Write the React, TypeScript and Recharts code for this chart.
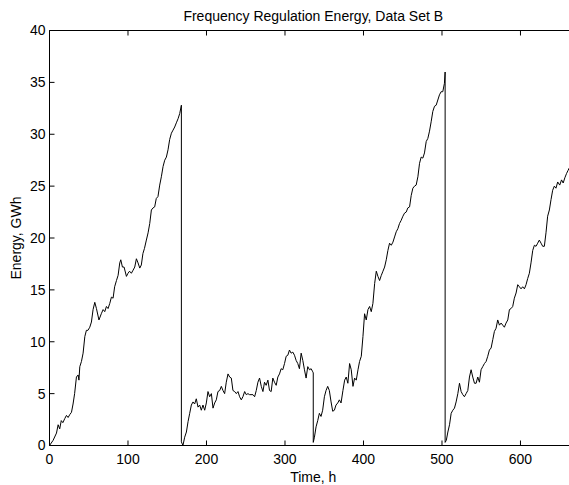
import { LineChart, Line, XAxis, YAxis } from 'recharts';

// hours and energy (GWh), one week per array pair
const week1Hours = [
  0, 4.6, 8.9, 11, 13, 15, 17, 19.5, 21.6, 23.7, 26, 28, 30, 32, 34.3, 36.5, 37.5, 38.6, 40.7, 42.8,
  45, 47, 49, 51.3, 53.4, 55.5, 57.7, 59.8, 63, 66, 68.3, 70.4, 72.5, 74.6, 76.8, 78.9, 81, 83, 85.3,
  87.4, 89.5, 90.8, 92.9, 95, 98, 100, 102, 104.3, 106.5, 108.6, 110.7, 112.8, 115, 117, 119, 121,
  123.4, 125.6, 127.7, 129.8, 131.9, 134, 136, 138.2, 140.4, 142.5, 144.7, 146.8, 148.9, 151, 153.1,
  155.3, 157.4, 159.5, 161.6, 163.8, 165.9, 168,
];
const week1Energy = [
  0, 0.5, 1.2, 2.0, 1.6, 2.4, 2.2, 2.6, 2.9, 2.7, 3.0, 3.2, 4.0, 5.0, 6.6, 6.8, 6.3, 7.6, 8.1, 8.9,
  10.5, 11.1, 11.1, 11.4, 11.9, 13.1, 13.8, 13.2, 12.1, 12.7, 13.1, 12.9, 13.4, 13.2, 13.7, 14.3, 14.2,
  15.3, 15.9, 16.4, 17.6, 17.9, 17.2, 17.2, 16.3, 16.6, 16.8, 16.6, 16.9, 17.2, 18.0, 17.6, 17.1, 17.4,
  18.5, 19.0, 19.8, 20.5, 21.4, 22.7, 22.9, 23.0, 23.8, 24.0, 25.1, 25.9, 26.9, 27.5, 27.8, 28.5, 29.5,
  30.1, 30.4, 30.7, 31.1, 31.5, 32.0, 32.8,
];

const week2Hours = [
  168, 170, 172.2, 174.4, 176.5, 178.6, 180.7, 182.8, 184.9, 187, 189.2, 191.3, 193.4, 195.5, 197.7,
  199.8, 201.9, 204, 206.2, 208.3, 210.4, 212.5, 214.6, 216.8, 218.9, 221, 223.1, 225.2, 227.4, 229.5,
  231.6, 233.7, 235.9, 238, 240.1, 242.2, 244.3, 246.4, 248.6, 250.7, 252.8, 254.9, 259.2, 261.3,
  263.4, 265.5, 267.6, 269.8, 271.9, 273.9, 276, 278.2, 280.3, 282.4, 284.5, 286.6, 288.8, 290.9, 293,
  295.1, 297.2, 299.4, 301.5, 303.6, 305.7, 307.8, 310, 312.1, 314.2, 316.3, 318.4, 320.6, 322.7,
  324.8, 326.9, 329, 331.2, 333.3, 335.4, 336,
];
const week2Energy = [
  0.35, 0, 0.8, 1.3, 2.3, 3.1, 3.9, 4.2, 4.0, 4.5, 3.7, 3.9, 3.4, 3.9, 3.4, 4.1, 5.2, 4.7, 5.0, 3.6,
  4.1, 4.4, 5.2, 5.3, 5.7, 5.3, 5.0, 6.1, 6.9, 6.6, 6.5, 5.3, 5.2, 5.0, 5.2, 4.7, 4.4, 4.7, 5.2, 4.9,
  5.0, 4.9, 4.9, 4.7, 5.3, 6.1, 6.5, 5.7, 5.2, 6.1, 5.8, 6.3, 5.3, 5.2, 6.5, 6.1, 5.8, 6.6, 6.9, 7.4,
  7.3, 7.9, 8.6, 8.7, 9.2, 8.9, 9.0, 8.7, 8.2, 7.9, 7.4, 8.9, 8.2, 7.3, 6.5, 7.6, 7.3, 7.4, 7.1, 7.0,
];

const week3Hours = [
  336, 337.5, 339.6, 341.7, 343.8, 345.9, 348, 350.2, 352.3, 354.4, 356.5, 358.7, 360.8, 362.9, 365,
  367.2, 369.3, 371.4, 373.8, 376, 378, 380.1, 382.3, 384.4, 386.6, 388.7, 390.8, 393, 395, 397.2,
  399.3, 401.4, 403.5, 405.7, 407.8, 409.9, 412, 414.2, 416.3, 418.4, 420.5, 422.7, 424.8, 426.9, 429,
  431.1, 433.2, 435.4, 437.5, 439.6, 441.7, 443.8, 445.9, 448, 450.2, 452.3, 454.4, 456.5, 458.7,
  460.8, 462.9, 465, 467.1, 469.3, 471.4, 473.5, 475.6, 477.7, 479.9, 482, 484.1, 486.2, 488.3, 490.5,
  492.6, 494.7, 496.8, 498.9, 501, 503.1, 504,
];
const week3Energy = [
  0.3, 0.8, 1.8, 2.4, 3.1, 2.8, 3.4, 4.7, 5.3, 5.7, 5.3, 4.2, 3.3, 3.4, 3.9, 4.1, 4.4, 4.1, 5.3, 6.3,
  6.6, 6.0, 7.9, 7.3, 5.7, 6.5, 6.3, 7.3, 8.1, 8.6, 10.5, 12.7, 12.1, 13.1, 13.4, 12.9, 13.7, 15.6,
  16.8, 16.3, 15.9, 16.4, 16.8, 17.2, 17.9, 18.8, 19.5, 19.3, 19.6, 20.1, 20.6, 20.9, 21.4, 21.7, 22.1,
  22.4, 22.5, 22.9, 23.0, 24.1, 24.8, 25.0, 25.1, 25.9, 27.2, 27.8, 27.7, 28.2, 29.3, 29.6, 30.3, 31.2,
  32.2, 32.7, 32.8, 33.3, 33.8, 34.1, 34.1, 34.9, 36.0,
];

const week4Hours = [
  504, 505.5, 507.5, 509.6, 511.7, 513.8, 515.9, 518, 520.2, 522.3, 524.4, 526.5, 528.6, 530.7, 532.9,
  535, 537.1, 539.2, 541.4, 543.5, 545.6, 547.7, 549.8, 551.9, 554.1, 556.2, 558.3, 560.4, 562.6,
  564.7, 566.8, 568.9, 571, 573.2, 575.3, 577.4, 579.5, 581.6, 583.8, 585.9, 588, 590.1, 592.2, 594.4,
  596.5, 598.6, 600.7, 602.8, 605, 607.1, 609.2, 611.3, 613.4, 615.6, 617.7, 619.8, 621.9, 624, 626.2,
  628.3, 630.4, 632.5, 634.6, 636.8, 638.9, 641, 643.1, 645.2, 647.4, 650, 652.3, 654.4, 656.5, 658.6,
  660.5, 662.5,
];
const week4Energy = [
  0.3, 0.5, 1.3, 2.0, 3.1, 3.4, 3.6, 4.2, 5.0, 6.0, 5.2, 4.9, 4.7, 5.0, 5.3, 6.6, 7.3, 6.6, 6.0, 6.0,
  6.6, 6.1, 7.3, 7.6, 7.9, 8.1, 8.6, 9.2, 9.4, 10.2, 11.0, 11.3, 12.1, 11.6, 11.8, 11.6, 11.4, 11.8,
  12.1, 13.1, 13.2, 13.4, 14.2, 14.7, 15.5, 15.3, 15.1, 15.3, 15.1, 15.5, 16.1, 16.6, 17.6, 18.8, 19.3,
  19.2, 19.5, 19.8, 19.5, 19.2, 19.2, 20.5, 22.1, 22.7, 23.7, 24.6, 25.0, 24.8, 25.4, 25.1, 25.6, 25.3,
  25.8, 26.2, 26.5, 26.8,
];

const xTicks = [0, 100, 200, 300, 400, 500, 600];
const yTicks = [0, 5, 10, 15, 20, 25, 30, 35, 40];

const hours = [...week1Hours, ...week2Hours, ...week3Hours, ...week4Hours];
const energy = [...week1Energy, ...week2Energy, ...week3Energy, ...week4Energy];
const data = hours.map((t, i) => ({ t, e: energy[i] }));

const FONT = '"Liberation Sans", Arial, Helvetica, sans-serif';
const tickStyle = { fontSize: 14, fill: '#000', fontFamily: FONT };

export default function App() {
  return (
    <div
      style={{
        position: 'fixed',
        left: 0,
        top: 0,
        width: 569,
        height: 485,
        overflow: 'hidden',
        background: '#fff',
        fontFamily: FONT,
      }}
    >
      <div
        style={{
          position: 'absolute',
          left: 49.5,
          width: 527.5,
          top: 9,
          textAlign: 'center',
          fontSize: 14,
          lineHeight: '14px',
          color: '#000',
          whiteSpace: 'nowrap',
        }}
      >
        Frequency Regulation Energy, Data Set B
      </div>
      <LineChart
        width={600}
        height={485}
        data={data}
        margin={{ top: 29.5, right: 23, bottom: 0, left: 0 }}
        style={{ fontFamily: FONT }}
      >
        {/* negative tickSize points the tick marks into the plot */}
        <XAxis
          dataKey="t"
          type="number"
          domain={[0, 672]}
          ticks={xTicks}
          height={39.5}
          tickSize={-5}
          tickMargin={14}
          tick={tickStyle}
          axisLine={{ stroke: '#000' }}
          tickLine={{ stroke: '#000' }}
          label={{ value: 'Time, h', position: 'insideBottom', offset: 3, fill: '#000', fontSize: 14 }}
        />
        {/* top edge of the box, ticks only */}
        <XAxis
          xAxisId="top"
          dataKey="t"
          type="number"
          orientation="top"
          domain={[0, 672]}
          ticks={xTicks}
          height={1}
          tickSize={-5}
          tickFormatter={() => ''}
          axisLine={{ stroke: '#000' }}
          tickLine={{ stroke: '#000' }}
        />
        <YAxis
          type="number"
          domain={[0, 40]}
          ticks={yTicks}
          width={49.5}
          tickSize={-5}
          tickMargin={9}
          tick={tickStyle}
          axisLine={{ stroke: '#000' }}
          tickLine={{ stroke: '#000' }}
          label={{
            value: 'Energy, GWh',
            angle: -90,
            position: 'insideLeft',
            offset: 16,
            fill: '#000',
            fontSize: 14,
            style: { textAnchor: 'middle' },
          }}
        />
        <Line
          xAxisId="top"
          type="linear"
          dataKey="e"
          stroke="none"
          dot={false}
          activeDot={false}
          isAnimationActive={false}
        />
        <Line
          type="linear"
          dataKey="e"
          stroke="#000"
          strokeWidth={1}
          dot={false}
          activeDot={false}
          isAnimationActive={false}
        />
      </LineChart>
    </div>
  );
}
